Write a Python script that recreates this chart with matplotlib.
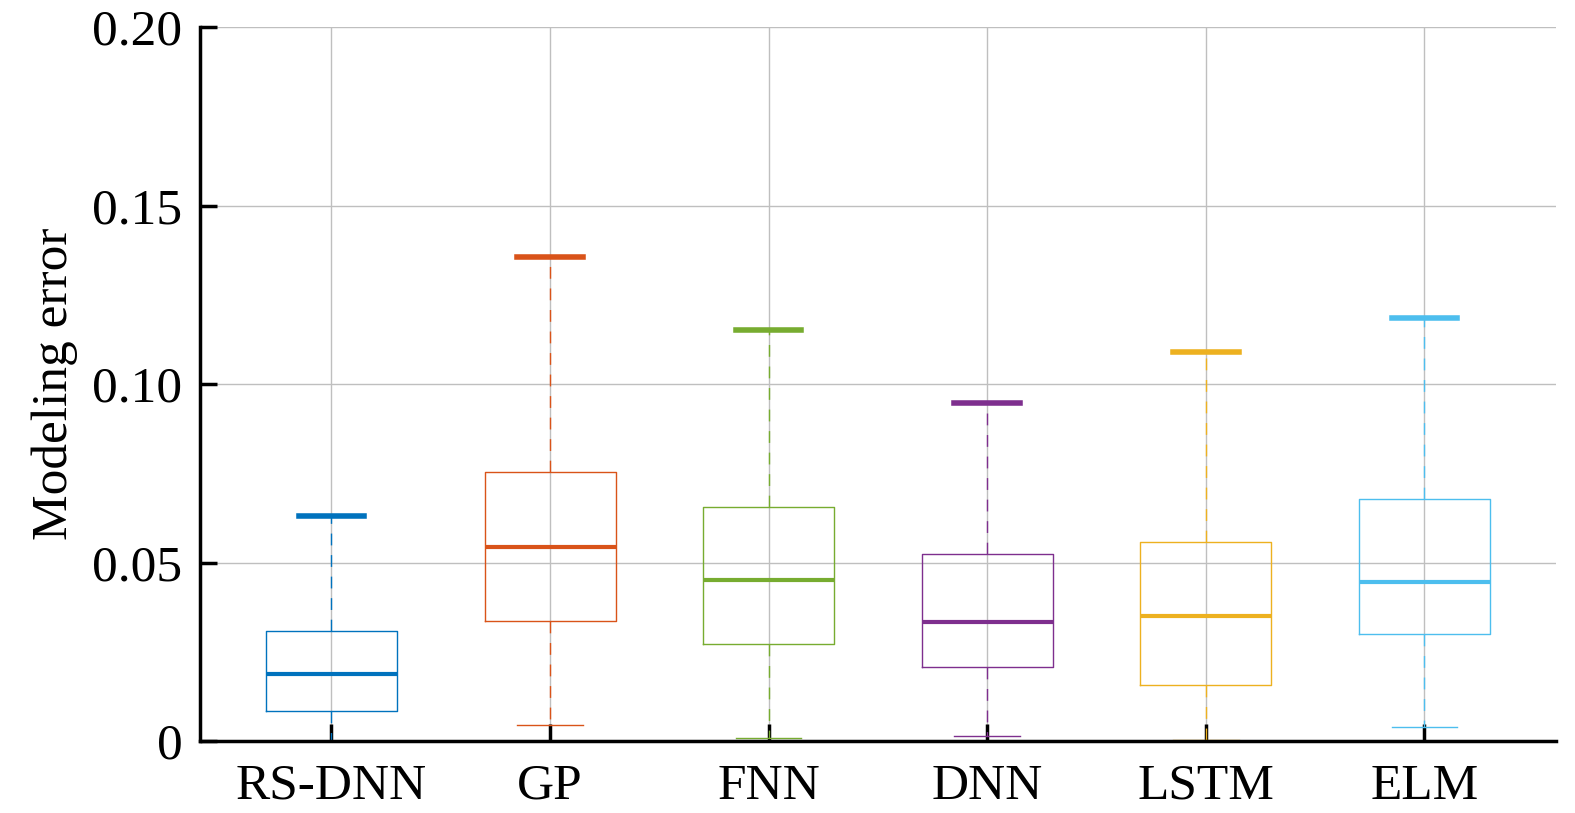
import matplotlib
matplotlib.use("Agg")
import matplotlib.pyplot as plt
import numpy as np

plt.rcParams['font.family'] = ['Liberation Serif', 'DejaVu Serif']

models = ['RS-DNN', 'GP', 'FNN', 'DNN', 'LSTM', 'ELM']
whisker_low = [0.0000, 0.0044, 0.0008, 0.0014, 0.0002, 0.0039]
q1 = [0.0083, 0.0335, 0.0271, 0.0206, 0.0156, 0.0299]
medians = [0.0188, 0.0544, 0.0452, 0.0334, 0.0351, 0.0446]
q3 = [0.0307, 0.0753, 0.0655, 0.0523, 0.0557, 0.0677]
whisker_high = [0.0631, 0.1356, 0.1151, 0.0947, 0.1091, 0.1186]
colors = ['#0072BD', '#D95319', '#77AC30', '#7E2F8E', '#EDB120', '#4DBEEE']

stats = []
for i, name in enumerate(models):
    stats.append(dict(label=name, whislo=whisker_low[i], q1=q1[i], med=medians[i],
                      q3=q3[i], whishi=whisker_high[i], fliers=[]))

fig = plt.figure(figsize=(15.75, 8.13), dpi=100)
ax = fig.add_axes([0.1272, 0.0886, 0.8605, 0.878])

pos = np.arange(1, len(models) + 1)
bp = ax.bxp(stats, positions=pos, widths=0.6, showfliers=False, patch_artist=False)

for i, c in enumerate(colors):
    bp['boxes'][i].set(color=c, linewidth=1.0)
    bp['medians'][i].set(color=c, linewidth=3.0)
    for w in bp['whiskers'][2 * i:2 * i + 2]:
        w.set(color=c, linewidth=1.0, linestyle=(0, (8.5, 7)))
    low_cap, high_cap = bp['caps'][2 * i], bp['caps'][2 * i + 1]
    low_cap.set(color=c, linewidth=1.0)
    high_cap.set(color=c, linewidth=4.0)
    # caps are half the box width
    for cap in (low_cap, high_cap):
        x = cap.get_xdata()
        mid = (x[0] + x[1]) / 2
        cap.set_xdata([mid - 0.15, mid + 0.15])

ax.set_xlim(0.4, 6.6)
ax.set_ylim(0, 0.20)
ax.set_yticks([0, 0.05, 0.10, 0.15, 0.20])
ax.set_yticklabels(['0', '0.05', '0.10', '0.15', '0.20'])
ax.set_xticks(pos)
ax.set_xticklabels(models)
ax.grid(True, color='#bfbfbf', linewidth=1.0)
ax.set_axisbelow(True)

for s in ['top', 'right']:
    ax.spines[s].set_visible(False)
for s in ['left', 'bottom']:
    ax.spines[s].set_linewidth(2.5)

ax.tick_params(axis='both', direction='in', length=12, width=2.5, labelsize=37)
ax.tick_params(axis='x', pad=16)
ax.tick_params(axis='y', pad=13)
ax.set_ylabel('Modeling error', fontsize=37, labelpad=10)

fig.savefig('out.png', dpi=100)
